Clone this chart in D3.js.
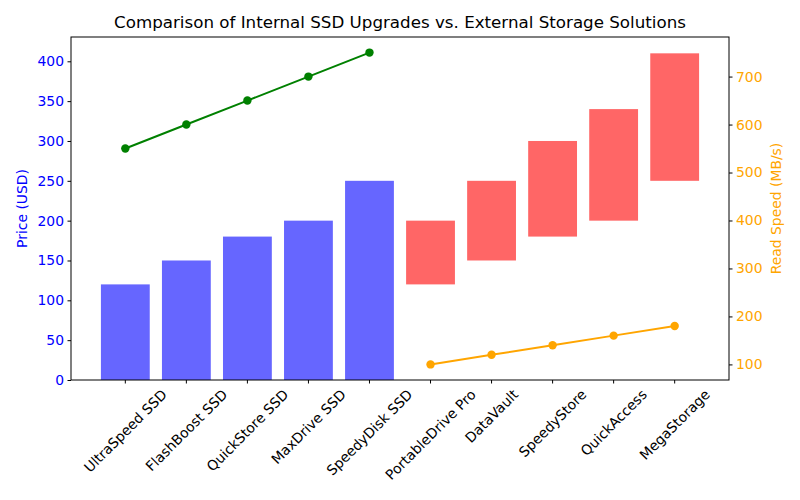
<!DOCTYPE html>
<html><head><meta charset="utf-8">
<script src="https://cdn.jsdelivr.net/npm/d3@7"></script>
<style>body{margin:0;background:#fff}text{font-family:"DejaVu Sans",sans-serif}</style>
</head><body><svg id="c" width="800" height="500"></svg>
<script>
const internalNames = ["UltraSpeed SSD","FlashBoost SSD","QuickStore SSD","MaxDrive SSD","SpeedyDisk SSD"];
const internalPrice = [120,150,180,200,250];
const internalSpeed = [550,600,650,700,750];
const externalNames = ["PortableDrive Pro","DataVault","SpeedyStore","QuickAccess","MegaStorage"];
const externalPriceLow = [120,150,180,200,250];
const externalPriceHigh = [200,250,300,340,410];
const externalSpeed = [100,120,140,160,180];
const priceTicks = [0,50,100,150,200,250,300,350,400];
const speedTicks = [100,200,300,400,500,600,700];

const svg = d3.select("#c");
const L=71,R=729,T=37,B=380;
const cats = internalNames.concat(externalNames);
const x = d3.scaleLinear().domain([-0.89, cats.length-1+0.89]).range([L,R]);
const y = d3.scaleLinear().domain([0,430.5]).range([B,T]);
const y2 = d3.scaleLinear().domain([67.5,782.5]).range([B,T]);
const bw = x(0.8)-x(0);

// internal bars
svg.selectAll(".ib").data(internalPrice).enter().append("rect")
  .attr("x",(d,i)=>x(i)-bw/2).attr("width",bw)
  .attr("y",d=>y(d)).attr("height",d=>y(0)-y(d)).attr("fill","#6666ff");
// external floating bars
svg.selectAll(".eb").data(externalPriceLow).enter().append("rect")
  .attr("x",(d,i)=>x(i+5)-bw/2).attr("width",bw)
  .attr("y",(d,i)=>y(externalPriceHigh[i])).attr("height",(d,i)=>y(d)-y(externalPriceHigh[i])).attr("fill","#ff6666");

// lines
function drawLine(vals, off, color){
  const line = d3.line().x((d,i)=>x(i+off)).y(d=>y2(d));
  svg.append("path").attr("d",line(vals)).attr("fill","none").attr("stroke",color).attr("stroke-width",2);
  svg.selectAll(null).data(vals).enter().append("circle")
    .attr("cx",(d,i)=>x(i+off)).attr("cy",d=>y2(d)).attr("r",4.2).attr("fill",color);
}
drawLine(internalSpeed,0,"#008000");
drawLine(externalSpeed,5,"#ffa500");

// frame
svg.append("rect").attr("x",L).attr("y",T).attr("width",R-L).attr("height",B-T)
  .attr("fill","none").attr("stroke","#000").attr("stroke-width",1);

// left axis
const la = svg.append("g").attr("transform",`translate(${L},0)`)
  .call(d3.axisLeft(y).tickValues(priceTicks).tickSize(3.5).tickPadding(3.5).tickFormat(d3.format("d")));
la.select(".domain").remove();
la.selectAll("text").attr("fill","blue").style("font-size","13.9px").style("font-family","DejaVu Sans");
la.selectAll("line").attr("stroke","#000");
// right axis
const ra = svg.append("g").attr("transform",`translate(${R},0)`)
  .call(d3.axisRight(y2).tickValues(speedTicks).tickSize(3.5).tickPadding(3.5).tickFormat(d3.format("d")));
ra.select(".domain").remove();
ra.selectAll("text").attr("fill","#ffa500").style("font-size","13.9px").style("font-family","DejaVu Sans");
ra.selectAll("line").attr("stroke","#000");

// x ticks
const xg = svg.append("g");
cats.forEach((c,i)=>{
  xg.append("line").attr("x1",x(i)).attr("x2",x(i)).attr("y1",B).attr("y2",B+3.5).attr("stroke","#000");
  const t = xg.append("text").text(c).style("font-size","13.9px").attr("text-anchor","middle")
    .attr("dominant-baseline","central");
  const len = t.node().getComputedTextLength();
  const h = 13.9*1.0;
  const half = (len+h)*Math.SQRT1_2/2;
  const cx = x(i), cy = B+7+half;
  t.attr("x",cx).attr("y",cy).attr("transform",`rotate(-45,${cx},${cy})`);
});

// axis labels
svg.append("text").text("Price (USD)").attr("fill","blue").style("font-size","13.9px")
  .attr("text-anchor","middle").attr("transform",`translate(27,${(T+B)/2}) rotate(-90)`);
svg.append("text").text("Read Speed (MB/s)").attr("fill","#ffa500").style("font-size","13.9px")
  .attr("text-anchor","middle").attr("transform",`translate(781,${(T+B)/2}) rotate(-90)`);
// title
svg.append("text").text("Comparison of Internal SSD Upgrades vs. External Storage Solutions")
  .attr("x",(L+R)/2).attr("y",28).attr("text-anchor","middle").style("font-size","16.7px");
</script></body></html>
